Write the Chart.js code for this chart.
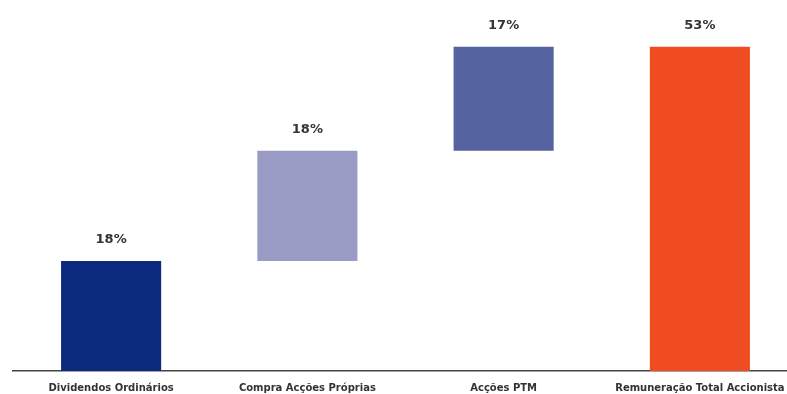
<!DOCTYPE html>
<html>
<head>
<meta charset="utf-8">
<script src="https://cdn.jsdelivr.net/npm/chart.js@4/dist/chart.umd.min.js"></script>
<style>
  html, body { margin: 0; padding: 0; background: #fff; overflow: hidden; }
  #wrap { position: absolute; left: 0; top: 0; width: 810px; height: 394px; }
</style>
</head>
<body>
<div id="wrap"><canvas id="graph"></canvas></div>
<script>
(function () {
    'use strict'

    // cumulative waterfall: each bar starts where the previous one ended
    const categories = ['Dividendos Ordinários', 'Compra Acções Próprias', 'Acções PTM', 'Remuneração Total Accionista'];
    const barStart = [0, 18, 36, 0];
    const barEnd = [18, 36, 53, 53];
    const barColors = ['#0b2a7e', '#9a9bc5', '#5663a1', '#f04c22'];

    // value labels above each bar
    const valueLabels = {
        id: 'valueLabels',
        afterDatasetsDraw(chart) {
            const ctx = chart.ctx;
            const meta = chart.getDatasetMeta(0);
            ctx.save();
            ctx.font = 'bold 13px "DejaVu Sans", sans-serif';
            ctx.fillStyle = '#333';
            ctx.textAlign = 'center';
            ctx.textBaseline = 'middle';
            meta.data.forEach(function (bar, i) {
                const v = barEnd[i] - barStart[i];
                ctx.fillText(v + '%', bar.x, bar.y - 21);
            });
            ctx.restore();
        }
    };

    new Chart(document.getElementById('graph'), {
        type: 'bar',
        data: {
            labels: categories,
            datasets: [{
                data: barStart.map(function (s, i) { return [s, barEnd[i]]; }),
                backgroundColor: barColors,
                borderWidth: 0,
                barPercentage: 0.51,
                categoryPercentage: 1
            }]
        },
        options: {
            responsive: true,
            maintainAspectRatio: false,
            animation: false,
            layout: { padding: { left: 13, right: 12, top: 4, bottom: 0 } },
            plugins: {
                legend: { display: false },
                tooltip: { enabled: false }
            },
            scales: {
                x: {
                    grid: { display: false },
                    border: { display: true, color: '#444', width: 1.5 },
                    ticks: {
                        color: '#333',
                        padding: 3,
                        maxRotation: 0,
                        autoSkip: false,
                        font: { family: '"DejaVu Sans", sans-serif', size: 10, weight: 'bold' }
                    },
                    afterFit: function (scale) { scale.height = 23; }
                },
                y: {
                    display: false,
                    min: 0,
                    max: 60
                }
            }
        },
        plugins: [valueLabels]
    });
})()
</script>
</body>
</html>
